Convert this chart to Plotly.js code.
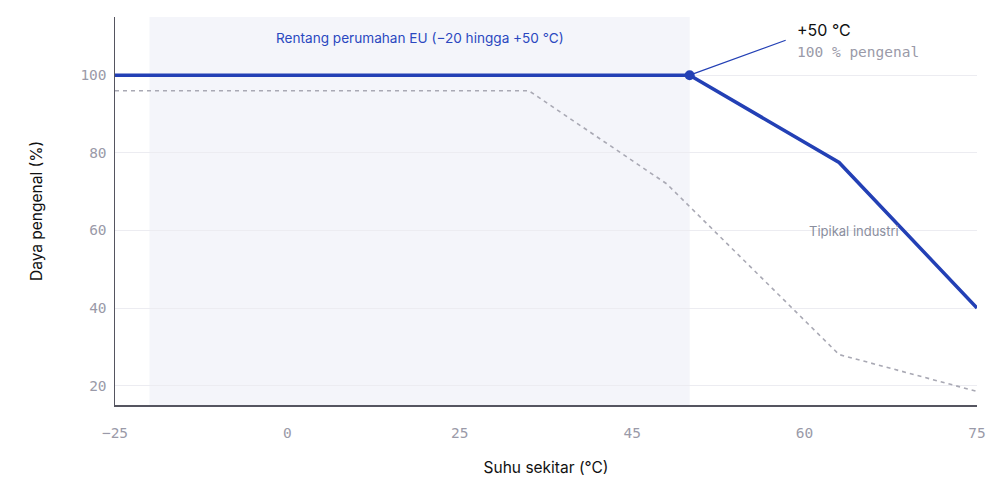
<!DOCTYPE html>
<html>
<head>
<meta charset="utf-8">
<script src="https://cdn.plot.ly/plotly-3.0.1.min.js"></script>
<style>html,body{margin:0;padding:0;background:#fff;}#chart{width:1007px;height:481px;}</style>
</head>
<body>
<div id="chart"></div>
<script>
// Temperature tick labels (°C), shown at equal spacing on the axis
const tempTicks = [-25, 0, 25, 45, 60, 75];
const tempTickText = ['\u221225', '0', '25', '45', '60', '75'];

// Rated power series (this product)
const ratedTemp = [-25, 50, 63, 75];
const ratedPower = [100, 100, 77.5, 40];

// Typical industry series
const industryTemp = [-25, 33, 48, 63, 75];
const industryPower = [96, 96, 72, 28, 18.5];

// EU housing range
const euRange = [-20, 50];

const yTicks = [20, 40, 60, 80, 100];

// piecewise mapping of temperature onto the evenly spaced tick axis
function pos(t) {
  for (let i = 0; i < tempTicks.length - 1; i++) {
    const a = tempTicks[i], b = tempTicks[i + 1];
    if (t <= b || i === tempTicks.length - 2) return i + (t - a) / (b - a);
  }
}

const blue = '#2340b5';
const mono = '"DejaVu Sans Mono", monospace';
const sans = 'Inter, "Noto Sans", sans-serif';

const traces = [
  {
    x: industryTemp.map(pos), y: industryPower, mode: 'lines', type: 'scatter',
    line: {color: '#a9a9b4', width: 1.6, dash: '4px,4px'}, hoverinfo: 'skip', showlegend: false
  },
  {
    x: ratedTemp.map(pos), y: ratedPower, mode: 'lines', type: 'scatter',
    line: {color: blue, width: 3.5}, hoverinfo: 'skip', showlegend: false
  },
  {
    x: [pos(ratedTemp[1])], y: [ratedPower[1]], mode: 'markers', type: 'scatter',
    marker: {color: blue, size: 10}, hoverinfo: 'skip', showlegend: false
  }
];

const layout = {
  width: 1007, height: 481,
  margin: {l: 115, r: 30, t: 17, b: 76},
  paper_bgcolor: '#ffffff', plot_bgcolor: '#ffffff',
  showlegend: false,
  xaxis: {
    range: [0, tempTicks.length - 1],
    tickvals: tempTicks.map(pos), ticktext: tempTickText,
    showgrid: false, zeroline: false,
    showline: true, linecolor: '#555560', linewidth: 1.5,
    ticks: '', ticklabelstandoff: 14,
    tickfont: {family: mono, size: 14.5, color: '#9a9aa8'},
    title: {text: 'Suhu sekitar (°C)', font: {family: sans, size: 15.5, color: '#111111'}, standoff: 22}
  },
  yaxis: {
    range: [15, 115],
    tickvals: yTicks, ticktext: yTicks.map(String),
    showgrid: true, gridcolor: '#ececf1', gridwidth: 1, zeroline: false,
    showline: true, linecolor: '#555560', linewidth: 1.5,
    ticks: '', ticklabelstandoff: 4,
    tickfont: {family: mono, size: 14.5, color: '#9a9aa8'},
    title: {text: 'Daya pengenal (%)', font: {family: sans, size: 15.5, color: '#111111'}, standoff: 34}
  },
  shapes: [
    {type: 'rect', xref: 'x', yref: 'paper', x0: pos(euRange[0]), x1: pos(euRange[1]), y0: 0, y1: 1,
     fillcolor: '#f4f5fa', line: {width: 0}, layer: 'below'}
  ],
  annotations: [
    {xref: 'x', yref: 'y', x: (pos(euRange[0]) + pos(euRange[1])) / 2, y: 109.5,
     text: 'Rentang perumahan EU (\u221220 hingga +50 °C)', showarrow: false,
     font: {family: sans, size: 13.6, color: '#2a48c0'}},
    {xref: 'x', yref: 'y', x: pos(ratedTemp[1]), y: ratedPower[1],
     text: '+50 °C<br><span style="font-family:DejaVu Sans Mono;font-size:14.5px;color:#9a9aa8">100 % pengenal</span>',
     showarrow: true, arrowhead: 0, arrowwidth: 1.2, arrowcolor: blue, standoff: 3,
     axref: 'pixel', ayref: 'pixel', ax: 96, ay: -35, borderpad: 10,
     xanchor: 'left', yanchor: 'middle', align: 'left',
     font: {family: sans, size: 16, color: '#111111'}},
    {xref: 'x', yref: 'y', x: pos(60.2), y: 59.8, xanchor: 'left',
     text: 'Tipikal industri', showarrow: false,
     font: {family: sans, size: 13, color: '#8a8e9e'}}
  ]
};

Plotly.newPlot('chart', traces, layout, {displayModeBar: false, staticPlot: true});
</script>
</body>
</html>
